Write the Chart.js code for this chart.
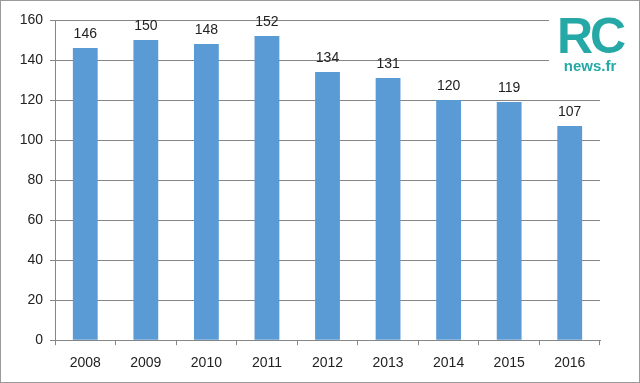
<!DOCTYPE html>
<html><head><meta charset="utf-8">
<script src="https://cdn.jsdelivr.net/npm/chart.js@4.4.0/dist/chart.umd.min.js"></script>
<style>
html,body{margin:0;padding:0;background:#fff;}
#wrap{position:relative;width:640px;height:383px;box-sizing:border-box;border:1px solid #9a9a9a;}
#logo{position:absolute;left:548px;top:8px;width:82px;height:66px;background:#fff;text-align:center;font-family:"Liberation Sans",Arial,sans-serif;color:#26a9a6;}
#logo .rc{font-size:50px;font-weight:bold;line-height:46px;letter-spacing:-3px;margin-top:4px;}
#logo .nw{font-size:15px;font-weight:bold;line-height:14px;}
</style></head>
<body><div id="wrap"><canvas id="c" width="638" height="381"></canvas>
<div id="logo"><div class="rc">RC</div><div class="nw">news.fr</div></div></div>
<script>
const categories = ["2008","2009","2010","2011","2012","2013","2014","2015","2016"];
const values = [146,150,148,152,134,131,120,119,107];
const yTicks = [0,20,40,60,80,100,120,140,160];

const labelPlugin = {
  id:'vals',
  afterDatasetsDraw(chart){
    const ctx = chart.ctx;
    const meta = chart.getDatasetMeta(0);
    ctx.save();
    ctx.font = '14px "Liberation Sans", Arial, sans-serif';
    ctx.fillStyle = '#222';
    ctx.textAlign = 'center';
    ctx.textBaseline = 'bottom';
    meta.data.forEach((b,i)=>{ ctx.fillText(String(values[i]), b.x, b.y - 7); });
    ctx.restore();
  }
};

new Chart(document.getElementById('c'), {
  type:'bar',
  data:{labels:categories, datasets:[{data:values, backgroundColor:'#5b9bd5', categoryPercentage:0.82, barPercentage:0.5}]},
  options:{
    responsive:false, animation:false,
    layout:{padding:{left:0,right:39,top:19,bottom:0}},
    plugins:{legend:{display:false}, tooltip:{enabled:false}},
    scales:{
      x:{
        grid:{offset:true, drawOnChartArea:false, drawTicks:true, tickLength:5, color:'#868686'},
        border:{color:'#868686'},
        ticks:{color:'#222', font:{size:14, family:'"Liberation Sans", Arial, sans-serif'}, padding:10}
      },
      y:{
        min:0, max:160,
        afterFit(s){ s.width = 54; },
        afterBuildTicks(s){ s.ticks = yTicks.map(v=>({value:v})); },
        grid:{color:'#868686', tickLength:5},
        border:{color:'#868686'},
        ticks:{color:'#222', font:{size:14, family:'"Liberation Sans", Arial, sans-serif'}, padding:7}
      }
    }
  },
  plugins:[labelPlugin]
});
</script></body></html>
